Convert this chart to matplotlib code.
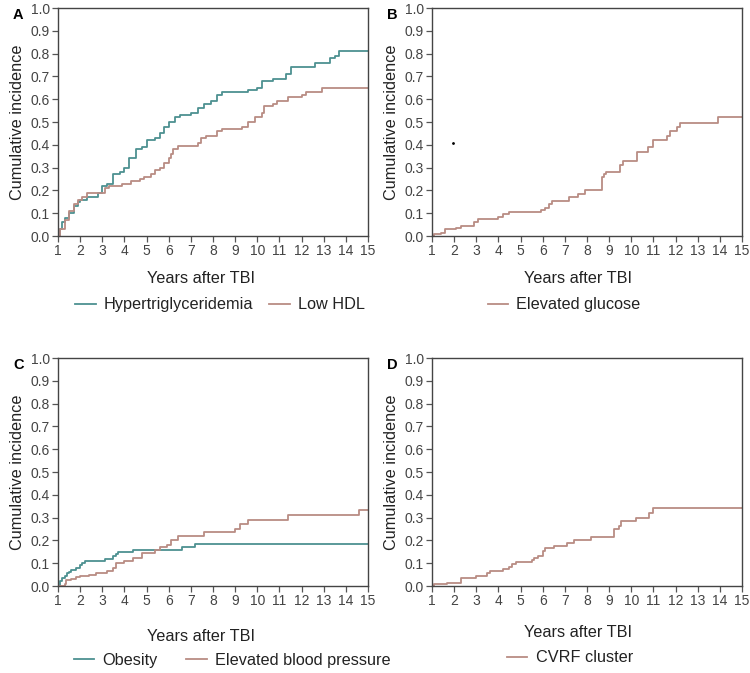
import matplotlib.pyplot as plt

plt.rcParams['font.family'] = ['Liberation Sans', 'DejaVu Sans']

# Colours
teal = '#4d9191'
rose = '#b98c84'

# Panel A - Hypertriglyceridemia
tg_t = [1.0, 1.1, 1.2, 1.3, 1.5, 1.7, 1.9, 2.0, 2.3, 2.8, 3.0, 3.2, 3.5, 3.8, 4.0, 4.2, 4.5,
        4.8, 5.0, 5.4, 5.6, 5.8, 6.0, 6.3, 6.5, 7.0, 7.3, 7.6, 7.9, 8.2, 8.4, 9.6, 10.0,
        10.2, 10.7, 11.3, 11.5, 12.6, 13.3, 13.5, 13.7, 15.0]
tg_v = [0.0, 0.03, 0.06, 0.08, 0.10, 0.13, 0.15, 0.16, 0.17, 0.19, 0.22, 0.23, 0.27, 0.28,
        0.30, 0.34, 0.38, 0.39, 0.42, 0.43, 0.45, 0.48, 0.50, 0.52, 0.53, 0.54, 0.56, 0.58,
        0.59, 0.62, 0.633, 0.64, 0.65, 0.68, 0.69, 0.71, 0.74, 0.76, 0.78, 0.79, 0.81, 0.81]

# Panel A - Low HDL
hdl_t = [1.0, 1.1, 1.3, 1.5, 1.7, 1.9, 2.1, 2.3, 2.9, 3.1, 3.3, 3.9, 4.3, 4.7, 4.9, 5.2,
         5.4, 5.6, 5.8, 6.0, 6.1, 6.2, 6.4, 7.3, 7.45, 7.7, 8.2, 8.4, 9.3, 9.6, 9.9, 10.2,
         10.3, 10.7, 10.9, 11.4, 12.0, 12.2, 12.9, 15.0]
hdl_v = [0.0, 0.03, 0.07, 0.11, 0.14, 0.16, 0.17, 0.19, 0.19, 0.21, 0.22, 0.23, 0.24, 0.25,
         0.26, 0.27, 0.29, 0.30, 0.32, 0.34, 0.36, 0.38, 0.395, 0.41, 0.43, 0.44, 0.46,
         0.47, 0.48, 0.50, 0.52, 0.54, 0.57, 0.58, 0.59, 0.61, 0.62, 0.63, 0.65, 0.65]

# Panel B - Elevated glucose
glu_t = [1.0, 1.1, 1.4, 1.6, 2.1, 2.3, 2.9, 3.1, 4.0, 4.2, 4.5, 5.9, 6.1, 6.3, 6.4, 7.2,
         7.6, 7.9, 8.66, 8.75, 8.85, 9.5, 9.64, 10.25, 10.75, 11.0, 11.6, 11.75, 12.05,
         12.2, 13.9, 15.0]
glu_v = [0.0, 0.01, 0.015, 0.03, 0.035, 0.045, 0.06, 0.075, 0.085, 0.095, 0.105, 0.115,
         0.125, 0.14, 0.155, 0.17, 0.185, 0.20, 0.26, 0.27, 0.28, 0.31, 0.33, 0.37, 0.39,
         0.42, 0.44, 0.46, 0.48, 0.495, 0.52, 0.52]
stray_x = [1.95]
stray_y = [0.41]

# Panel C - Obesity
ob_t = [1.0, 1.1, 1.2, 1.3, 1.4, 1.5, 1.6, 1.8, 2.0, 2.1, 2.2, 3.1, 3.5, 3.6, 3.7, 4.4,
        6.6, 7.2, 15.0]
ob_v = [0.0, 0.02, 0.035, 0.045, 0.055, 0.06, 0.07, 0.08, 0.09, 0.10, 0.11, 0.12, 0.13,
        0.14, 0.15, 0.16, 0.17, 0.185, 0.185]

# Panel C - Elevated blood pressure
bp_t = [1.0, 1.3, 1.35, 1.6, 1.8, 2.0, 2.4, 2.7, 3.2, 3.5, 3.6, 4.0, 4.4, 4.8, 5.4, 5.6,
        5.9, 6.1, 6.4, 7.6, 9.0, 9.2, 9.6, 11.4, 14.6, 15.0]
bp_v = [0.0, 0.01, 0.025, 0.03, 0.04, 0.045, 0.05, 0.055, 0.065, 0.08, 0.10, 0.11, 0.125,
        0.145, 0.16, 0.17, 0.18, 0.20, 0.22, 0.235, 0.25, 0.27, 0.29, 0.31, 0.335, 0.335]

# Panel D - CVRF cluster
cv_t = [1.0, 1.1, 1.7, 2.3, 3.0, 3.5, 3.6, 4.2, 4.5, 4.6, 4.8, 5.5, 5.6, 5.8, 6.0, 6.1,
        6.5, 7.1, 7.4, 8.2, 9.2, 9.45, 9.55, 10.2, 10.8, 11.0, 15.0]
cv_v = [0.0, 0.01, 0.015, 0.035, 0.045, 0.055, 0.065, 0.075, 0.085, 0.095, 0.105, 0.115,
        0.125, 0.13, 0.155, 0.165, 0.175, 0.19, 0.20, 0.215, 0.25, 0.265, 0.285, 0.30,
        0.32, 0.34, 0.34]

xticks = list(range(1, 16))
yticks = [i / 10 for i in range(11)]

fig = plt.figure(figsize=(7.5, 6.73), dpi=100)

W, H = 750, 673
panels = {
    'A': (58, 236), 'B': (432, 236),
    'C': (58, 586), 'D': (432, 586),
}
axes = {}
for key, (left, bottom) in panels.items():
    ax = fig.add_axes([left / W, 1 - bottom / H, 310 / W, 228 / H])
    ax.set_xlim(1, 15)
    ax.set_ylim(0, 1)
    ax.set_xticks(xticks)
    ax.set_yticks(yticks)
    ax.set_yticklabels([f'{v:.1f}' for v in yticks])
    ax.tick_params(labelsize=10, colors='#555555', labelcolor='#444444', length=4,
                   width=0.9, pad=2)
    for s in ax.spines.values():
        s.set_color('#444444')
        s.set_linewidth(1.0)
    ax.set_ylabel('Cumulative incidence', fontsize=11.7, color='#222222', labelpad=4)
    ax.set_xlabel('Years after TBI', fontsize=11.7, color='#222222')
    ax.text(-0.145, 1.0, key, transform=ax.transAxes, fontsize=10.5, fontweight='bold',
            ha='left', va='top')
    axes[key] = ax

axA, axB, axC, axD = axes['A'], axes['B'], axes['C'], axes['D']

axA.step(tg_t, tg_v, where='post', color=teal, lw=1.3, label='Hypertriglyceridemia')
axA.step(hdl_t, hdl_v, where='post', color=rose, lw=1.3, label='Low HDL')
axB.step(glu_t, glu_v, where='post', color=rose, lw=1.3, label='Elevated glucose')
axB.plot(stray_x, stray_y, 'o', color='black', ms=1.0)
axC.step(ob_t, ob_v, where='post', color=teal, lw=1.3, label='Obesity')
axC.step(bp_t, bp_v, where='post', color=rose, lw=1.3, label='Elevated blood pressure')
axD.step(cv_t, cv_v, where='post', color=rose, lw=1.3, label='CVRF cluster')

# x label positions (axes coords)
axA.xaxis.set_label_coords(0.46, -0.155)
axB.xaxis.set_label_coords(0.47, -0.155)
axC.xaxis.set_label_coords(0.46, -0.19)
axD.xaxis.set_label_coords(0.47, -0.17)

leg_kw = dict(frameon=False, fontsize=11.7, handlelength=1.25, handletextpad=0.5,
              borderpad=0, bbox_transform=fig.transFigure, labelcolor='#222222')
axA.legend(loc='center', bbox_to_anchor=(220 / W, 1 - 305 / H), ncol=2,
           columnspacing=1.0, **leg_kw)
axB.legend(loc='center', bbox_to_anchor=(564 / W, 1 - 305 / H), **leg_kw)
axC.legend(loc='center', bbox_to_anchor=(232 / W, 1 - 660 / H), ncol=2,
           columnspacing=1.8, **leg_kw)
axD.legend(loc='center', bbox_to_anchor=(570 / W, 1 - 658 / H), **leg_kw)

fig.savefig('out.png', dpi=100)
